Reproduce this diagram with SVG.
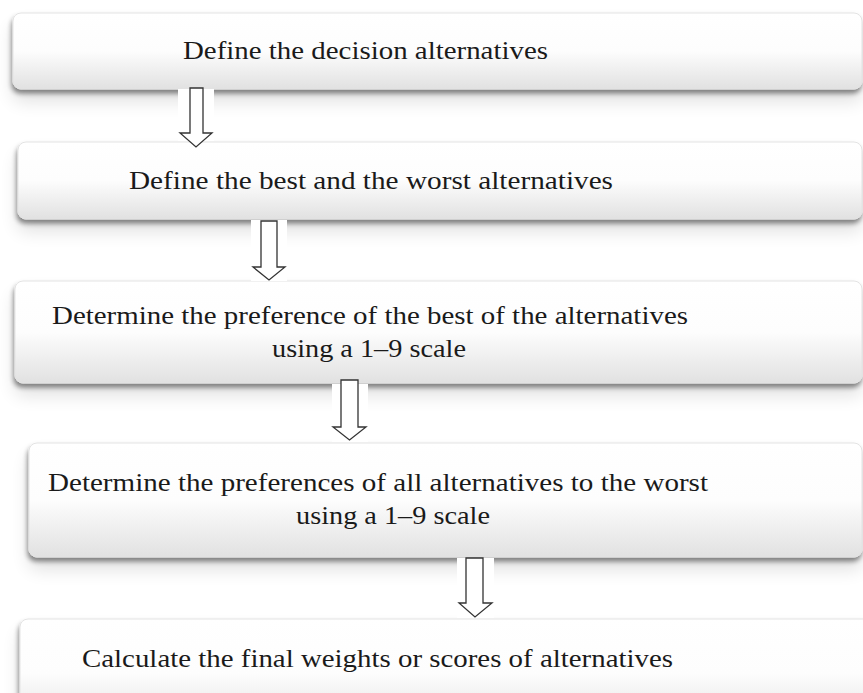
<svg xmlns="http://www.w3.org/2000/svg" width="863" height="693" viewBox="0 0 863 693">
<defs>
<linearGradient id="g" x1="0" y1="0" x2="0" y2="1">
<stop offset="0" stop-color="#ffffff"/>
<stop offset="0.5" stop-color="#fdfdfd"/>
<stop offset="1" stop-color="#e1e1e1"/>
</linearGradient>
<filter id="sh" x="-5%" y="-20%" width="110%" height="170%">
<feGaussianBlur in="SourceAlpha" stdDeviation="2.5" result="b1"/>
<feOffset in="b1" dx="-1" dy="4" result="o1"/>
<feComponentTransfer in="o1" result="s1"><feFuncA type="linear" slope="0.45"/></feComponentTransfer>
<feGaussianBlur in="SourceAlpha" stdDeviation="9" result="b2"/>
<feOffset in="b2" dx="0" dy="12" result="o2"/>
<feComponentTransfer in="o2" result="s2"><feFuncA type="linear" slope="0.12"/></feComponentTransfer>
<feMerge><feMergeNode in="s2"/><feMergeNode in="s1"/><feMergeNode in="SourceGraphic"/></feMerge>
</filter>
</defs>
<style>
.box{fill:url(#g);stroke:#e3e3e3;stroke-width:1;filter:url(#sh)}
.t{font-family:"Liberation Serif","Times New Roman",serif;font-size:26px;fill:#1a1a1a}
.bg{fill:#ffffff}
.arr{fill:#ffffff;stroke:#333333;stroke-width:1.3;stroke-linejoin:miter}
</style>
<rect width="863" height="693" fill="#ffffff"/>
<g id="node1">
<rect class="box" x="13" y="13" width="849" height="76" rx="8"/>
<text class="t" x="183" y="59" textLength="365" lengthAdjust="spacingAndGlyphs">Define the decision alternatives</text>
</g>
<g id="node2">
<rect class="box" x="18" y="142" width="844" height="77" rx="8"/>
<text class="t" x="129" y="189" textLength="484" lengthAdjust="spacingAndGlyphs">Define the best and the worst alternatives</text>
</g>
<g id="node3">
<rect class="box" x="15" y="281" width="847" height="102" rx="8"/>
<text class="t" x="52" y="324" textLength="636" lengthAdjust="spacingAndGlyphs">Determine the preference of the best of the alternatives</text>
<text class="t" x="272" y="357" textLength="194" lengthAdjust="spacingAndGlyphs">using a 1–9 scale</text>
</g>
<g id="node4">
<rect class="box" x="29" y="443" width="833" height="114" rx="8"/>
<text class="t" x="48" y="491" textLength="660" lengthAdjust="spacingAndGlyphs">Determine the preferences of all alternatives to the worst</text>
<text class="t" x="296" y="524" textLength="194" lengthAdjust="spacingAndGlyphs">using a 1–9 scale</text>
</g>
<g id="node5">
<rect class="box" x="20" y="619" width="860" height="110" rx="8"/>
<text class="t" x="82" y="667" textLength="591" lengthAdjust="spacingAndGlyphs">Calculate the final weights or scores of alternatives</text>
</g>
<g id="connectors">
<rect class="bg" x="178" y="89" width="36" height="52"/>
<path class="arr" d="M190,88 H203 V133 H212 L196,147 L180,133 H190 Z"/>
<rect class="bg" x="251" y="220" width="36" height="61"/>
<path class="arr" d="M261,221 H277 V267 H285 L269,280 L253,267 H261 Z"/>
<rect class="bg" x="332" y="384" width="36" height="58"/>
<path class="arr" d="M341,380 H358 V427 H366 L349.5,440 L333,427 H341 Z"/>
<rect class="bg" x="457" y="558" width="37" height="60"/>
<path class="arr" d="M466,558 H483 V603 H492 L475,617 L459,603 H466 Z"/>
</g>
</svg>
